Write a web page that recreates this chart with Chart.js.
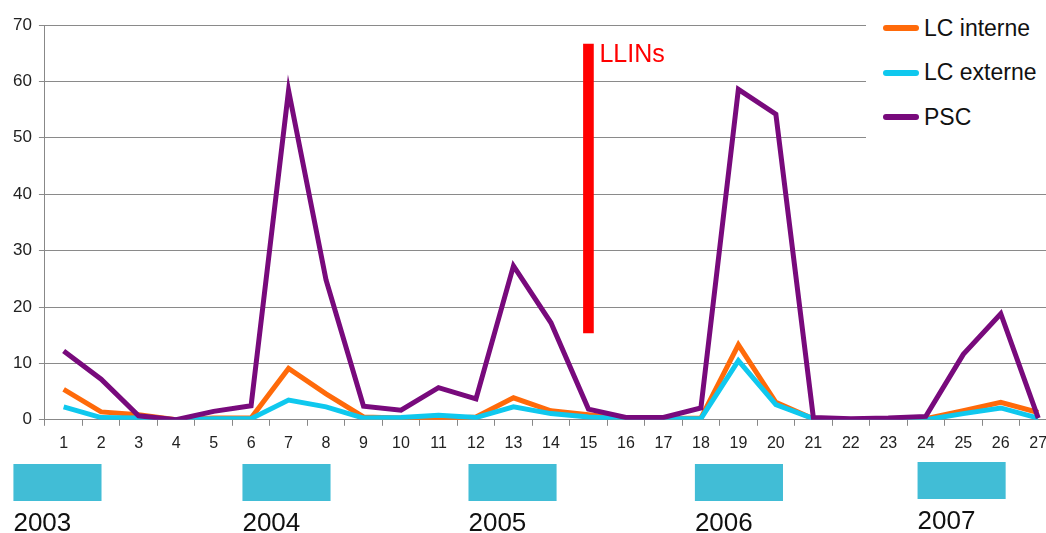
<!DOCTYPE html>
<html>
<head>
<meta charset="utf-8">
<script src="https://cdn.jsdelivr.net/npm/chart.js@4/dist/chart.umd.min.js"></script>
<style>
    html, body { margin: 0; padding: 0; background: #fff; overflow: hidden; }
    #wrap { position: relative; width: 1046px; height: 533px; overflow: hidden; }
    #wrap canvas { position: absolute; left: 0; top: 0; }
    #legend {
        position: absolute; left: 866px; top: 0; width: 180px; height: 140px;
        background: #fff; font-family: "Liberation Sans", Arial, sans-serif;
        font-size: 23px; color: #111;
    }
    .item { position: absolute; left: 17px; display: flex; align-items: center; height: 28px; }
    .sw { width: 36px; height: 6px; margin-right: 5px; border-radius: 3px; }
</style>
</head>
<body>
<div id="wrap">
    <canvas id="chart" width="1060" height="533"></canvas>
    <div id="legend"></div>
</div>
<script>
// 🔢 DATA
const labels = ["1","2","3","4","5","6","7","8","9","10","11","12","13","14","15","16","17","18","19","20","21","22","23","24","25","26","27"];
const lcInterne = [5.4, 1.4, 0.9, 0, 0.3, 0.3, 9.1, 4.6, 0.5, 0.3, 0.2, 0.5, 3.9, 1.6, 0.9, 0.2, 0.2, 0.3, 13.3, 3.1, 0.2, 0, 0, 0.2, 1.6, 3.1, 1.3];
const lcExterne = [2.3, 0.4, 0.3, 0, 0.2, 0.2, 3.5, 2.3, 0.3, 0.4, 0.8, 0.4, 2.3, 1.1, 0.5, 0.2, 0.2, 0.2, 10.5, 2.7, 0.2, 0, 0, 0, 1.1, 2.1, 0.3];
const psc = [12.2, 7.2, 0.7, 0, 1.5, 2.5, 58.4, 24.8, 2.4, 1.7, 5.7, 3.7, 27.3, 17.2, 1.9, 0.4, 0.4, 2.1, 58.6, 54.2, 0.4, 0.2, 0.3, 0.6, 11.6, 18.8, 0.3];
const yTicks = [0, 10, 20, 30, 40, 50, 60, 70];

// 🟥 LLINs marker
const llinsLabel = "LLINs";
const llinsCategory = "15";
const llinsSpan = [15.4, 66.6];

// 📅 YEARS (start of each box, in category index units)
const years = ["2003", "2004", "2005", "2006", "2007"];
const yearBoxFrom = [-1.34, 4.77, 10.8, 16.84, 22.78];
const yearBoxWidth = 2.35;

const series = [
    { label: "LC interne", data: lcInterne, color: "#ff6a0a", order: 3 },
    { label: "LC externe", data: lcExterne, color: "#0fc8ee", order: 2 },
    { label: "PSC", data: psc, color: "#780a7c", order: 1 }
];

// 🏷️ LEGEND
const legend = document.getElementById("legend");
series.forEach((s, i) => {
    const item = document.createElement("div");
    item.className = "item";
    item.style.top = (14 + i * 44.5) + "px";
    item.innerHTML = `<span class="sw" style="background:${s.color}"></span><span>${s.label}</span>`;
    legend.appendChild(item);
});

// 🖌️ EXTRAS
const extras = {
    id: "extras",
    afterDraw: (chart) => {
        const ctx = chart.ctx;
        const x = chart.scales.x;
        const y = chart.scales.y;
        ctx.save();

        // LLINs text
        const idx = labels.indexOf(llinsCategory);
        const bar = chart.getDatasetMeta(series.length).data[idx];
        ctx.fillStyle = "#ff0000";
        ctx.font = "25px 'Liberation Sans', Arial, sans-serif";
        ctx.textBaseline = "middle";
        ctx.fillText(llinsLabel, bar.x + bar.width / 2 + 6, y.getPixelForValue(llinsSpan[1]) + 11);

        // year boxes
        years.forEach((yr, i) => {
            const x0 = x.getPixelForValue(yearBoxFrom[i]);
            const x1 = x.getPixelForValue(yearBoxFrom[i] + yearBoxWidth);
            const top = i === years.length - 1 ? 462 : 464;
            ctx.fillStyle = "#41bdd6";
            ctx.fillRect(x0, top, x1 - x0, 37);
            ctx.fillStyle = "#111";
            ctx.font = "26px 'Liberation Sans', Arial, sans-serif";
            ctx.textBaseline = "alphabetic";
            ctx.fillText(yr, x0, top + 67);
        });
        ctx.restore();
    }
};

// 📊 CHART
new Chart(document.getElementById("chart"), {
    type: "line",
    data: {
        labels: labels,
        datasets: [
            ...series.map(s => ({
                label: s.label,
                data: s.data,
                borderColor: s.color,
                backgroundColor: s.color,
                borderWidth: 5,
                pointRadius: 0,
                tension: 0,
                order: s.order
            })),
            {
                type: "bar",
                label: llinsLabel,
                data: labels.map(l => l === llinsCategory ? llinsSpan : null),
                backgroundColor: "#ff0000",
                barThickness: 10,
                order: 0
            }
        ]
    },
    options: {
        responsive: false,
        animation: false,
        layout: { padding: { left: 6, top: 25, right: 3, bottom: 72 } },
        plugins: {
            legend: { display: false },
            tooltip: { enabled: false }
        },
        scales: {
            x: {
                offset: true,
                grid: { offset: true, drawOnChartArea: false, tickLength: 6, color: "#888" },
                border: { color: "#888" },
                ticks: {
                    color: "#222", padding: 8, maxRotation: 0, autoSkip: false,
                    font: { family: "'Liberation Sans', Arial, sans-serif", size: 16 }
                }
            },
            y: {
                min: 0,
                max: 70,
                afterBuildTicks: (axis) => { axis.ticks = yTicks.map(v => ({ value: v })); },
                grid: { color: "#8a8a8a", tickLength: 6 },
                border: { color: "#888" },
                ticks: {
                    color: "#222", padding: 7,
                    font: { family: "'Liberation Sans', Arial, sans-serif", size: 17 }
                }
            }
        }
    },
    plugins: [extras]
});
</script>
</body>
</html>
